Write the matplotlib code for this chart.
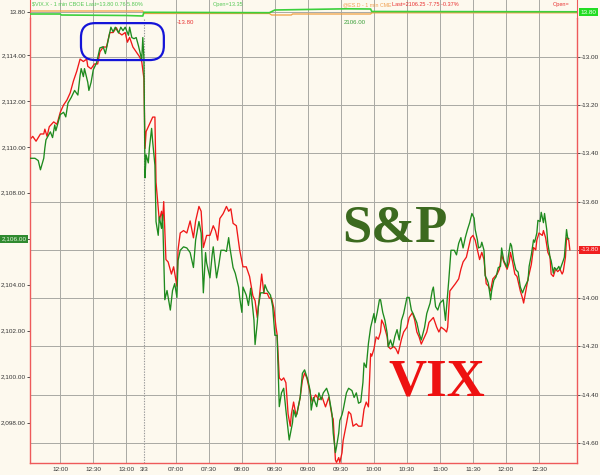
import matplotlib
matplotlib.use("Agg")
import matplotlib.pyplot as plt
from matplotlib.patches import FancyBboxPatch

plt.rcParams['axes.unicode_minus'] = False
plt.rcParams['font.family'] = ['Liberation Sans', 'DejaVu Sans']

# ---------------- data ----------------
# time index in minutes (12:00 of day 1 = 0; session break "3/3" at 76; 07:00 day 2 = 105)
tick_pos = [0, 30, 60, 76, 105, 135, 165, 195, 225, 255, 285, 315, 345, 375, 405, 435]
tick_labels = ["12:00", "12:30", "13:00", "3/3", "07:00", "07:30", "08:00", "08:30",
               "09:00", "09:30", "10:00", "10:30", "11:00", "11:30", "12:00", "12:30"]
break_pos = 76

sp_time = [-27, -23, -20, -18, -15, -14, -13, -9, -7, -5, -4, 0, 3, 5, 7, 10, 13, 16, 18, 19,
           21, 22, 25, 26, 28, 30, 33, 36, 39, 41, 44, 46, 48, 50, 53, 55, 57, 59, 62, 63,
           65, 67, 69, 71, 73, 74, 75, 76, 77, 78, 80, 81, 83, 84, 86, 87, 89, 90, 92, 93,
           95, 97, 100, 102, 104, 106, 107, 109, 112, 115, 118, 121, 123, 126, 128, 130, 132, 133, 136, 138,
           139, 142, 144, 146, 149, 151, 153, 154, 157, 159, 162, 163, 165, 166, 169, 171, 173, 176, 177, 179,
           180, 182, 185, 186, 188, 191, 193, 195, 197, 199, 201, 203, 205, 207, 208, 211, 212, 214, 215, 218,
           220, 222, 225, 227, 228, 230, 233, 235, 237, 239, 242, 244, 247, 248, 250, 251, 253, 254, 256, 257,
           260, 262, 265, 267, 269, 271, 273, 275, 276, 278, 280, 282, 283, 285, 286, 288, 290, 291, 293, 295,
           297, 298, 300, 302, 304, 306, 308, 310, 312, 315, 317, 319, 321, 324, 326, 328, 331, 333, 335, 336,
           338, 339, 341, 343, 345, 348, 350, 353, 355, 358, 360, 362, 364, 366, 368, 370, 372, 374, 376, 377,
           379, 380, 382, 383, 385, 386, 388, 389, 391, 392, 394, 396, 398, 400, 401, 403, 406, 407, 409, 410,
           412, 414, 416, 418, 420, 422, 425, 426, 428, 430, 431, 433, 434, 436, 437, 439, 440, 442, 443, 445,
           446, 448, 449, 451, 453, 454, 457, 458, 460, 461, 462]
sp_value = [2109.5, 2109.5, 2109.4, 2109.0, 2109.5, 2109.95, 2110.3, 2110.65, 2110.4, 2110.95,
            2110.7, 2111.4, 2111.5, 2111.3, 2111.9, 2112.15, 2112.45, 2112.25, 2113.1, 2113.4,
            2113.05, 2113.4, 2112.8, 2112.45, 2112.8, 2113.35, 2113.65, 2114.3, 2114.35, 2114.05,
            2114.75, 2115.2, 2115.0, 2115.2, 2114.95, 2115.2, 2115.05, 2115.2, 2114.85, 2115.2,
            2114.75, 2114.7, 2114.75, 2114.4, 2114.0, 2113.75, 2114.75, 2113.85, 2108.65, 2109.65,
            2109.3, 2109.95, 2110.8, 2110.2, 2109.2, 2106.75, 2106.15, 2106.95, 2106.45, 2107.05,
            2103.35, 2103.75, 2102.9, 2103.75, 2104.05, 2103.45, 2105.05, 2105.5, 2105.65, 2105.6,
            2105.4, 2104.75, 2105.95, 2106.75, 2106.25, 2103.65, 2105.4, 2104.95, 2104.3, 2105.3,
            2105.65, 2104.3, 2104.85, 2105.5, 2105.5, 2105.45, 2106.05, 2105.65, 2104.75, 2104.5,
            2103.9, 2103.45, 2102.8, 2103.9, 2103.55, 2103.1, 2103.85, 2102.45, 2101.4, 2102.35,
            2103.05, 2103.65, 2103.65, 2104.0, 2103.75, 2103.55, 2103.05, 2101.8, 2101.8, 2098.7,
            2099.3, 2099.5, 2098.55, 2097.7, 2097.25, 2098.0, 2098.55, 2098.25, 2098.4, 2099.1,
            2100.15, 2100.3, 2099.85, 2099.4, 2098.55, 2099.1, 2098.7, 2099.3, 2099.0, 2099.3,
            2099.5, 2099.2, 2098.35, 2097.55, 2096.7, 2096.95, 2097.55, 2098.1, 2098.35, 2098.55,
            2099.3, 2099.5, 2099.4, 2099.1, 2099.3, 2098.85, 2098.9, 2099.75, 2100.6, 2100.4,
            2101.45, 2102.15, 2102.35, 2102.75, 2102.35, 2102.8, 2103.35, 2103.35, 2102.8, 2102.45,
            2101.9, 2101.3, 2101.6, 2101.3, 2101.75, 2102.05, 2101.6, 2102.45, 2102.75, 2103.45,
            2103.45, 2102.9, 2102.7, 2102.35, 2101.9, 2101.6, 2102.15, 2102.75, 2103.05, 2103.2,
            2103.75, 2103.9, 2103.05, 2102.9, 2103.2, 2103.35, 2102.45, 2104.2, 2105.5, 2105.5,
            2105.3, 2105.8, 2106.05, 2105.6, 2106.05, 2106.4, 2106.7, 2107.1, 2106.9, 2106.4,
            2105.95, 2105.6, 2105.65, 2105.85, 2105.5, 2104.4, 2104.2, 2104.05, 2103.35, 2103.75,
            2104.2, 2104.35, 2104.75, 2104.8, 2105.6, 2105.05, 2104.75, 2105.2, 2105.8, 2105.7,
            2105.05, 2104.65, 2104.55, 2103.9, 2103.65, 2103.9, 2104.2, 2104.8, 2105.3, 2105.95,
            2105.85, 2106.25, 2106.8, 2106.75, 2107.15, 2106.7, 2107.1, 2106.4, 2105.8, 2105.2,
            2105.05, 2104.5, 2104.75, 2104.65, 2104.8, 2104.65, 2105.05, 2105.2, 2106.4, 2106.05,
            2106.0]

vix_time = [-27, -25, -22, -18, -15, -14, -12, -10, -6, -3, 0, 3, 6, 9, 12, 15, 18, 21, 24, 25,
            28, 31, 34, 36, 39, 42, 45, 48, 51, 53, 56, 59, 61, 63, 66, 69, 72, 74, 76, 77,
            78, 81, 82, 84, 86, 87, 90, 92, 93, 94, 96, 98, 101, 103, 106, 107, 109, 112, 115, 118,
            121, 123, 126, 128, 130, 133, 136, 139, 141, 143, 145, 148, 151, 153, 155, 157, 160, 163, 166, 169,
            172, 175, 177, 179, 181, 183, 185, 188, 190, 192, 194, 196, 197, 199, 201, 203, 205, 207, 209, 210,
            212, 214, 215, 218, 220, 222, 224, 227, 229, 232, 235, 238, 241, 244, 247, 248, 250, 251, 253, 254,
            256, 257, 260, 262, 264, 266, 269, 271, 274, 276, 278, 280, 282, 283, 285, 287, 289, 291, 292, 294,
            297, 298, 300, 303, 305, 307, 310, 312, 315, 317, 320, 322, 324, 326, 328, 330, 333, 335, 337, 339,
            342, 344, 346, 349, 351, 352, 354, 359, 362, 364, 366, 369, 371, 373, 375, 377, 379, 381, 383, 385,
            387, 389, 391, 393, 395, 397, 399, 401, 403, 406, 408, 409, 411, 413, 415, 418, 420, 421, 423, 425,
            428, 430, 432, 433, 435, 438, 439, 441, 443, 445, 446, 448, 450, 452, 454, 456, 457, 459, 460, 462,
            463]
vix_value = [-13.34, -13.33, -13.35, -13.32, -13.32, -13.30, -13.33, -13.29, -13.27, -13.28,
             -13.23, -13.20, -13.18, -13.15, -13.10, -13.06, -13.01, -13.02, -13.01, -13.04,
             -13.05, -13.03, -13.03, -12.98, -12.96, -12.96, -12.90, -12.90, -12.88, -12.90,
             -12.91, -12.90, -12.94, -12.92, -12.96, -12.98, -13.00, -13.02, -13.09, -13.38,
             -13.31, -13.28, -13.27, -13.25, -13.25, -13.52, -13.68, -13.64, -13.68, -13.60,
             -13.84, -13.85, -13.90, -13.87, -13.95, -13.80, -13.73, -13.72, -13.73, -13.68,
             -13.75, -13.68, -13.62, -13.64, -13.79, -13.74, -13.74, -13.70, -13.72, -13.76,
             -13.67, -13.65, -13.62, -13.64, -13.63, -13.69, -13.70, -13.80, -13.87, -13.87,
             -13.91, -13.99, -14.01, -14.08, -13.99, -13.90, -13.98, -13.98, -14.00, -14.00,
             -14.04, -14.12, -14.15, -14.33, -14.34, -14.33, -14.35, -14.48, -14.53, -14.48,
             -14.43, -14.48, -14.48, -14.41, -14.34, -14.31, -14.33, -14.39, -14.43, -14.40,
             -14.42, -14.41, -14.45, -14.41, -14.49, -14.50, -14.67, -14.68, -14.66, -14.68,
             -14.64, -14.59, -14.52, -14.47, -14.48, -14.53, -14.52, -14.53, -14.53, -14.46,
             -14.43, -14.45, -14.23, -14.24, -14.21, -14.16, -14.17, -14.14, -14.09, -14.11,
             -14.16, -14.20, -14.21, -14.20, -14.21, -14.23, -14.17, -14.14, -14.12, -14.08,
             -14.06, -14.09, -14.14, -14.16, -14.19, -14.17, -14.14, -14.10, -14.09, -14.08,
             -14.12, -14.14, -14.12, -14.13, -14.14, -14.12, -13.97, -13.94, -13.92, -13.88,
             -13.85, -13.83, -13.79, -13.75, -13.74, -13.76, -13.80, -13.84, -13.81, -13.84,
             -13.94, -13.95, -13.97, -13.92, -13.91, -13.90, -13.88, -13.82, -13.85, -13.88,
             -13.85, -13.81, -13.85, -13.90, -13.91, -13.97, -14.00, -14.02, -13.97, -13.92,
             -13.86, -13.79, -13.80, -13.76, -13.73, -13.74, -13.72, -13.75, -13.81, -13.83,
             -13.90, -13.91, -13.88, -13.89, -13.88, -13.90, -13.89, -13.83, -13.75, -13.76,
             -13.80]

# header strip (compressed mini panel)
strip_time = [-27, 0, 1, 60, 75, 76, 190, 195, 260, 282, 283, 470]
strip_vix = [13.60, 13.60, 13.50, 13.45, 13.40, 13.77, 13.73, 14.00, 14.12, 14.10, 13.85, 13.82]
strip_es_time = [-27, 75, 76, 190, 192, 210, 211, 282, 283, 470]
strip_es = [13.90, 13.90, 13.65, 13.65, 13.50, 13.50, 13.60, 13.60, 13.72, 13.72]

sp_ticks = [2098, 2100, 2102, 2104, 2106, 2108, 2110, 2112, 2114]
vix_ticks = [-13.0, -13.2, -13.4, -13.6, -13.8, -14.0, -14.2, -14.4, -14.6]
sp_last = 2106.00
vix_last = -13.80

# ---------------- style ----------------
BG = '#FDF9EE'
GRID = '#A9A9A3'
SPINE = '#EE5A5A'
GREEN = '#1E8A1E'
RED = '#F01818'
TXT = '#333333'

W, H = 600, 475
fig = plt.figure(figsize=(6, 4.75), dpi=100)
fig.patch.set_facecolor(BG)

left_px, right_px, top_px, bot_px = 30, 577, 18, 463
ax = fig.add_axes([left_px / W, (H - bot_px) / H, (right_px - left_px) / W, (bot_px - top_px) / H])
ax2 = ax.twinx()
ax.set_zorder(ax2.get_zorder() + 1)
ax.patch.set_visible(False)
ax2.patch.set_visible(False)

xlim = (-27.5, 469.5)
ax.set_xlim(*xlim)
ax.set_ylim(2096.25, 2115.6)
ax2.set_ylim(-14.6824, -12.8398)

# grids
ax.set_xticks(tick_pos)
ax.set_xticklabels(tick_labels)
ax.grid(False)
for tp in tick_pos:
    if tp != break_pos:
        ax2.axvline(tp, color=GRID, lw=0.7, zorder=0)
ax2.axvline(break_pos, color='#999999', lw=0.8, ls=(0, (1.2, 1.2)), zorder=0)
ax2.set_yticks(vix_ticks)
ax2.set_yticklabels(['' if abs(v - vix_last) < 1e-9 else f'{v:.2f}' for v in vix_ticks])
ax2.yaxis.grid(True, color=GRID, lw=0.7)
ax2.set_axisbelow(True)

ax.set_yticks(sp_ticks)
ax.set_yticklabels(['' if v == sp_last else f'{v:,.2f}' for v in sp_ticks])

# lines
ax2.plot(vix_time, vix_value, color=RED, lw=0.95, zorder=3)
ax.plot(sp_time, sp_value, color=GREEN, lw=0.95, zorder=3)

for a in (ax, ax2):
    for s in a.spines.values():
        s.set_visible(False)
ax.spines['left'].set_visible(True)
ax.spines['left'].set_color(SPINE)
ax.spines['bottom'].set_visible(True)
ax.spines['bottom'].set_color(SPINE)
ax2.spines['right'].set_visible(True)
ax2.spines['right'].set_color(SPINE)
for s in ('left', 'bottom'):
    ax.spines[s].set_linewidth(1.0)
ax2.spines['right'].set_linewidth(1.0)

ax.tick_params(axis='y', length=2.5, width=0.6, color=TXT, labelsize=4.6, labelcolor=TXT, pad=0.5)
ax.tick_params(axis='x', length=0, labelsize=4.6, labelcolor=TXT, pad=3)
ax2.tick_params(axis='y', length=2.5, width=0.6, color=TXT, labelsize=4.6, labelcolor=TXT, pad=0.5)

# last-value boxes
ax.annotate(f'{sp_last:,.2f}', xy=(0, sp_last), xycoords=('axes fraction', 'data'),
            xytext=(-2.5, 0), textcoords='offset points', ha='right', va='center',
            fontsize=4.6, color='#E8F5E0',
            bbox=dict(boxstyle='square,pad=0.25', fc='#2F8A2F', ec='none'))
ax2.annotate(f'{vix_last:.2f}', xy=(1, vix_last), xycoords=('axes fraction', 'data'),
             xytext=(2.5, 0), textcoords='offset points', ha='left', va='center',
             fontsize=4.6, color='#FFE8E8',
             bbox=dict(boxstyle='square,pad=0.25', fc='#F02020', ec='none'))

# big labels
ax.text(0.667, 0.526, 'S&P', transform=ax.transAxes, ha='center', va='center',
        fontsize=38, fontweight='bold', family='Liberation Serif', color='#3C6A1F')
ax.text(0.744, 0.18, 'VIX', transform=ax.transAxes, ha='center', va='center',
        fontsize=38, fontweight='bold', family='Liberation Serif', color='#EE1111')

# small value texts near top
ax.text(0.285, 0.991, f'{vix_last:.2f}', transform=ax.transAxes, ha='center', va='center',
        fontsize=4.4, color='#E83030')
ax.text(0.594, 0.991, f'{sp_last:.2f}', transform=ax.transAxes, ha='center', va='center',
        fontsize=4.4, color='#3AA03A')

# highlight box
box_w_px, box_h_px = right_px - left_px, bot_px - top_px
bx = FancyBboxPatch((0.0932, 0.9055), 0.1515, 0.083,
                    boxstyle='round,pad=0,rounding_size=0.026',
                    mutation_aspect=box_w_px / box_h_px,
                    transform=ax.transAxes, fill=False, ec='#1414D8', lw=1.6,
                    clip_on=False, zorder=6)
ax.add_patch(bx)

# ---------------- header strip ----------------
strip = fig.add_axes([left_px / W, (H - top_px) / H, (right_px - left_px) / W, top_px / H])
strip.set_facecolor(BG)
strip.set_xlim(*xlim)
strip.set_ylim(13.2, 15.0)
for tp in tick_pos:
    if tp != break_pos:
        strip.axvline(tp, color=GRID, lw=0.7, zorder=0)
strip.axhline(13.8, color=GRID, lw=0.7, zorder=0)
strip.plot(strip_es_time, strip_es, color='#F0A040', lw=0.9, zorder=2)
strip.plot(strip_time, strip_vix, color='#3CD03C', lw=1.2, zorder=3)
strip.set_xticks([])
strip.set_yticks([13.8])
strip.set_yticklabels(['13.80'])
strip.tick_params(axis='y', length=2.5, width=0.6, color=TXT, labelsize=4.6, labelcolor=TXT, pad=0.5)
for s in strip.spines.values():
    s.set_visible(False)
strip.spines['left'].set_visible(True)
strip.spines['left'].set_color(SPINE)
strip.spines['right'].set_visible(True)
strip.spines['right'].set_color(SPINE)
strip.annotate('13.80', xy=(1, 13.8), xycoords=('axes fraction', 'data'),
               xytext=(2.5, 0), textcoords='offset points', ha='left', va='center',
               fontsize=4.6, color='#F0FFF0',
               bbox=dict(boxstyle='square,pad=0.25', fc='#22DD22', ec='none'))

hdr_y = 1 - 4.5 / H
fig.text(32 / W, hdr_y, '$VIX.X - 1 min CBOE Last=13.80 0.76 5.80%', fontsize=4.0,
         color='#55C855', va='center')
fig.text(213 / W, hdr_y, 'Open=13.35', fontsize=4.0, color='#55C855', va='center')
fig.text(343 / W, hdr_y, '@ES.D - 1 min CME', fontsize=3.8, color='#F0A050', va='center')
fig.text(392 / W, hdr_y, 'Last=2106.25 -7.75 -0.37%', fontsize=4.0, color='#E83030', va='center')
fig.text(553 / W, hdr_y, 'Open=', fontsize=4.0, color='#E83030', va='center')

fig.savefig('out.png', dpi=100, facecolor=BG)
